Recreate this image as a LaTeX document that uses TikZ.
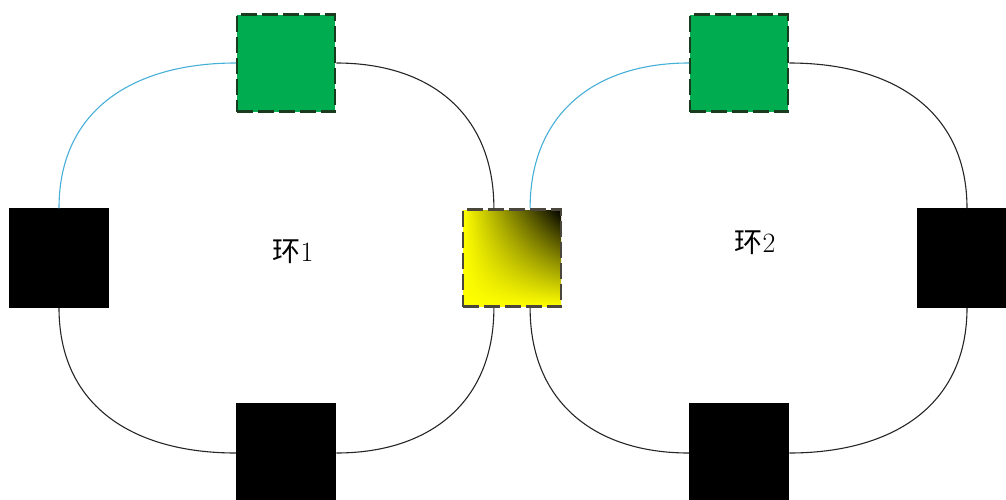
\documentclass[tikz,border=0pt]{standalone}
\usepackage{fontspec}
\usetikzlibrary{shadings}
\newfontfamily\cjk{Noto Sans CJK SC}
\definecolor{ringcyan}{RGB}{70,175,215}
\definecolor{boxgreen}{RGB}{0,172,80}
\definecolor{boxedge}{RGB}{25,60,30}
\tikzset{
  sqbox/.style={minimum width=98pt, minimum height=97pt, inner sep=0pt, line width=2.5pt, dash pattern=on 16pt off 5pt},
  greenbox/.style={sqbox, fill=boxgreen, draw=boxedge},
  blackbox/.style={sqbox, fill=black, draw=black, solid},
  yellowbox/.style={sqbox, draw=black!70!yellow!60!black},
  ringline/.style={line width=1.1pt, draw=black!85, looseness=1.12},
  cyanline/.style={line width=1.1pt, draw=ringcyan, looseness=1.12},
  ringlabel/.style={font=\fontsize{28}{32}\selectfont}
}
\begin{document}
\begin{tikzpicture}[x=1pt,y=-1pt]
\useasboundingbox (0,0) rectangle (1006,499);
\clip (0,0) rectangle (1006,499);
% ring 1 nodes
\node[greenbox] (g1) at (286,63) {};
\node[blackbox] (l1) at (59,258) {};
\node[blackbox] (b1) at (286,453) {};
\shade[lower left=yellow, upper left=yellow, lower right=yellow, upper right=black]
  (463,210) rectangle (561,306);
\node[yellowbox] (y) at (512,258) {};
% ring 2 nodes
\node[greenbox] (g2) at (739,63) {};
\node[blackbox] (r2) at (967,258) {};
\node[blackbox] (b2) at (739,453) {};
% labels
\node[ringlabel] (t1) at (293,252) {{\cjk 环}1};
\node[ringlabel] (t2) at (755,243) {{\cjk 环}2};
% ring 1 connectors
\draw[cyanline] (g1.west) to[out=180,in=90] (l1.north);
\draw[ringline] (g1.east) to[out=0,in=90] (y.110);
\draw[ringline] (l1.south) to[out=-90,in=180] (b1.west);
\draw[ringline] (b1.east) to[out=0,in=-90] (y.250);
% ring 2 connectors
\draw[cyanline] (g2.west) to[out=180,in=90] (y.70);
\draw[ringline] (g2.east) to[out=0,in=90] (r2.north);
\draw[ringline] (y.290) to[out=-90,in=180] (b2.west);
\draw[ringline] (b2.east) to[out=0,in=-90] (r2.south);
\end{tikzpicture}
\end{document}
